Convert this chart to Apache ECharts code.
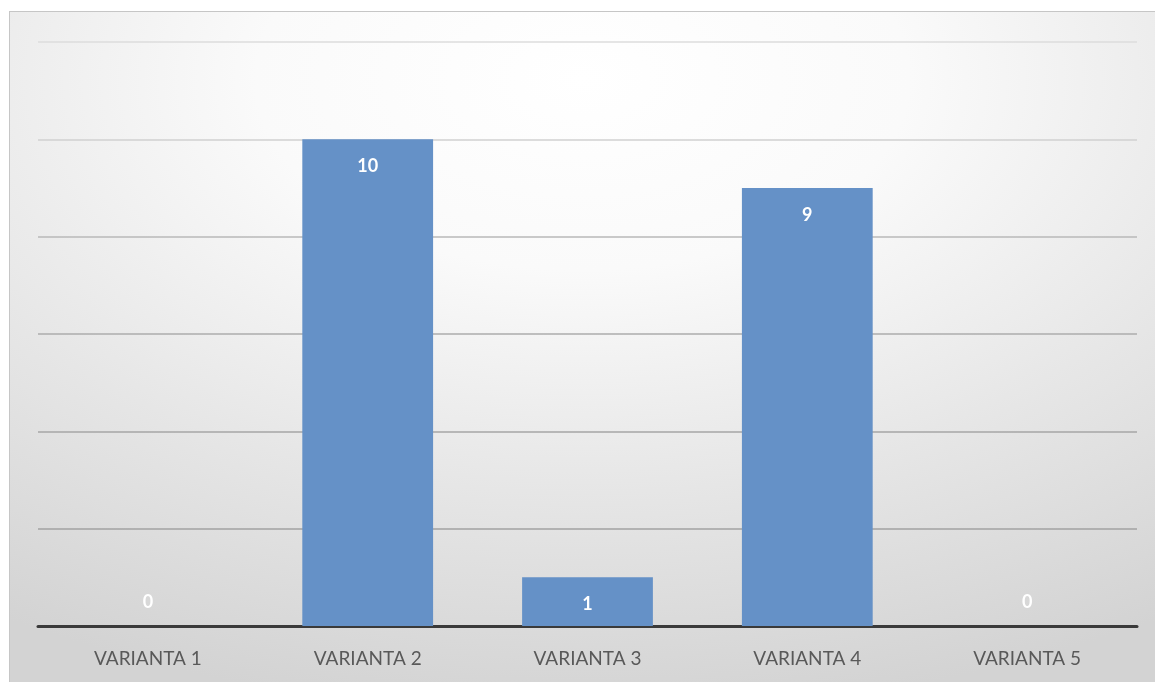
<!DOCTYPE html>
<html>
<head>
<meta charset="utf-8">
<script src="https://cdn.jsdelivr.net/npm/echarts@6/dist/echarts.min.js"></script>
<style>
  html, body { margin: 0; padding: 0; background: #ffffff; width: 1155px; height: 682px; overflow: hidden; }
  #chart { position: absolute; left: 9px; top: 11px; width: 1146px; height: 671px;
           border-top: 1px solid #c6c6c6; border-left: 1px solid #c6c6c6; box-sizing: border-box; }
</style>
</head>
<body>
<div id="chart"></div>
<script>
// Categories and vote counts
const categories = ['VARIANTA 1', 'VARIANTA 2', 'VARIANTA 3', 'VARIANTA 4', 'VARIANTA 5'];
const values = [0, 10, 1, 9, 0];
const yMin = 0;
const yMax = 12;
const yStep = 2;

const el = document.getElementById('chart');
const chart = echarts.init(el, null, { renderer: 'canvas' });
const W = el.clientWidth, H = el.clientHeight;

// Zero-height bars carry their label just above the axis line
const barData = values.map(v => ({
  value: v,
  label: v === 0
    ? { position: 'insideBottom', distance: 15 }
    : { position: 'insideTop', distance: 18 }
}));

chart.setOption({
  backgroundColor: '#d2d2d2',
  animation: false,
  // elliptical light spot: a square radial fill stretched across the width
  graphic: [{
    type: 'rect',
    z: -100,
    silent: true,
    x: 0, y: 0,
    scaleX: W / H,
    shape: { x: 0, y: 0, width: H, height: H },
    style: {
      fill: {
        type: 'radial', x: 0.5, y: 0.1, r: 0.95,
        colorStops: [
          { offset: 0, color: '#ffffff' },
          { offset: 0.3, color: '#fafafa' },
          { offset: 0.65, color: '#e6e6e6' },
          { offset: 1, color: '#d3d3d3' }
        ]
      }
    }
  }],
  grid: { left: 28, right: 18, top: 30, bottom: 56, containLabel: false },
  xAxis: {
    type: 'category',
    data: categories,
    axisLine: { show: true, lineStyle: { color: '#3a3a3a', width: 3 } },
    axisTick: { show: false },
    axisLabel: { color: '#595959', fontSize: 19, fontFamily: 'Lato, "Open Sans", sans-serif', margin: 23 }
  },
  yAxis: {
    type: 'value',
    min: yMin, max: yMax, interval: yStep,
    axisLine: { show: false },
    axisTick: { show: false },
    axisLabel: { show: false },
    // one shade per gridline, from the axis upward
    splitLine: { lineStyle: { color: ['#a0a0a0', '#a2a2a2', '#a6a6a6', '#acacac', '#b8b8b8', '#d0d0d0', '#dcdcdc'], width: 1.5 } }
  },
  series: [{
    type: 'bar',
    data: barData,
    barWidth: '59.5%',
    itemStyle: { color: '#6591c7' },
    label: {
      show: true,
      color: '#ffffff',
      fontSize: 18,
      fontWeight: 'bold',
      fontFamily: 'Lato, "Open Sans", sans-serif'
    }
  }]
});
</script>
</body>
</html>
